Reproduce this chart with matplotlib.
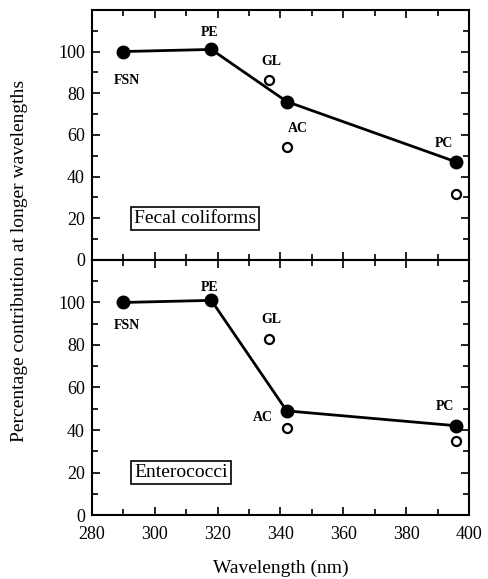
import matplotlib
matplotlib.use("Agg")
import matplotlib.pyplot as plt
from matplotlib.ticker import MultipleLocator

plt.rcParams['font.family'] = ['Liberation Serif', 'DejaVu Serif']

# Data
labels = ["FSN", "PE", "GL", "AC", "PC"]
fc_filled_x = [290, 318, 342, 396]
fc_filled_y = [100, 101, 76, 47]
fc_open_x = [336.5, 342, 396]
fc_open_y = [86.5, 54, 31.5]
ent_filled_x = [290, 318, 342, 396]
ent_filled_y = [100, 101, 49, 42]
ent_open_x = [336.5, 342, 396]
ent_open_y = [83, 41, 35]

fc_label_pos = {"FSN": (291, 86), "PE": (317.5, 109), "GL": (337, 95), "AC": (345.5, 63), "PC": (392, 56)}
ent_label_pos = {"FSN": (291, 89), "PE": (317.5, 107), "GL": (337, 92), "AC": (334.5, 46), "PC": (392.5, 51)}

fig = plt.figure(figsize=(4.89, 5.79), dpi=100)
ax1 = fig.add_axes([0.188, 0.551, 0.771, 0.432])
ax2 = fig.add_axes([0.188, 0.1105, 0.771, 0.4405])

def style(ax, show_x):
    ax.set_xlim(280, 400)
    ax.set_ylim(0, 120)
    ax.xaxis.set_major_locator(MultipleLocator(20))
    ax.xaxis.set_minor_locator(MultipleLocator(10))
    ax.set_yticks([0, 20, 40, 60, 80, 100])
    ax.yaxis.set_minor_locator(MultipleLocator(10))
    ax.tick_params(which='both', direction='in', top=True, right=True, width=1.2)
    ax.tick_params(which='major', length=6, labelsize=13)
    ax.tick_params(which='minor', length=4)
    ax.tick_params(axis='x', pad=8)
    ax.tick_params(axis='y', pad=5)
    if not show_x:
        ax.tick_params(labelbottom=False)
    for s in ax.spines.values():
        s.set_linewidth(1.5)

def draw(ax, fx, fy, ox, oy, lp, title, box_x):
    ax.plot(fx, fy, '-', color='black', lw=2, marker='o', markersize=9, zorder=3)
    ax.plot(ox, oy, 'o', mfc='white', mec='black', mew=1.6, markersize=6.5, ls='none', zorder=3)
    for k, (x, y) in lp.items():
        ax.text(x, y, k, ha='center', va='center', fontsize=10, fontweight='bold')
    ax.text(box_x, 20, title, ha='left', va='center', fontsize=14,
            bbox=dict(boxstyle='square,pad=0.15', fc='white', ec='black', lw=1.2))

style(ax1, False)
style(ax2, True)
draw(ax1, fc_filled_x, fc_filled_y, fc_open_x, fc_open_y, fc_label_pos, "Fecal coliforms", 293.5)
draw(ax2, ent_filled_x, ent_filled_y, ent_open_x, ent_open_y, ent_label_pos, "Enterococci", 293.5)

ax2.set_xlabel("Wavelength (nm)", fontsize=14, labelpad=12)
fig.text(0.04, 0.55, "Percentage contribution at longer wavelengths", rotation=90,
         ha='center', va='center', fontsize=14)

fig.savefig("out.png", dpi=100)
